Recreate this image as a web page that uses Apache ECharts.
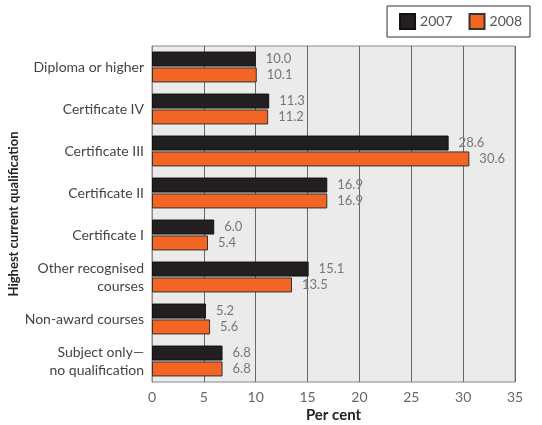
<!DOCTYPE html>
<html><head><meta charset="utf-8">
<script src="https://cdn.jsdelivr.net/npm/echarts@6/dist/echarts.min.js"></script>
<style>html,body{margin:0;padding:0;background:#fff}#c{width:542px;height:425px}</style>
</head><body><div id="c"></div>
<script>
const categories = ["Diploma or higher","Certificate IV","Certificate III","Certificate II","Certificate I","Other recognised\ncourses","Non-award courses","Subject only\u2014\nno qualification"];
const values2007 = [10.0, 11.3, 28.6, 16.9, 6.0, 15.1, 5.2, 6.8];
const values2008 = [10.1, 11.2, 30.6, 16.9, 5.4, 13.5, 5.6, 6.8];
const xTicks = [0,5,10,15,20,25,30,35];
const FONT = 'Lato';
const chart = echarts.init(document.getElementById('c'));
const lbl = {show:true, position:'right', distance:10, color:'#777', fontFamily:FONT, fontSize:13,
  formatter: p => p.value.toFixed(1)};
chart.setOption({
  animation:false,
  textStyle:{fontFamily:FONT},
  legend:{right:12, top:6, itemWidth:15, itemHeight:15, itemGap:16, icon:'rect',
    borderColor:'#333', borderWidth:1, padding:[7,8,7,12],
    textStyle:{color:'#555', fontSize:14, fontFamily:FONT},
    data:['2007','2008']},
  grid:{left:152, right:27, top:46, bottom:43, containLabel:false, outerBoundsMode:'none',
    show:true, backgroundColor:'#ebebeb', borderColor:'#888', borderWidth:1},
  xAxis:{type:'value', min:0, max:35, interval:5,
    name:'Per cent', nameLocation:'middle', nameGap:26, nameMoveOverlap:false,
    nameTextStyle:{fontWeight:'bold', fontSize:15, color:'#222', fontFamily:FONT},
    axisLine:{show:false}, axisTick:{show:false},
    axisLabel:{color:'#666', fontSize:14, margin:8, fontFamily:FONT,
      formatter: v => xTicks.includes(v) ? String(v) : ''},
    splitLine:{lineStyle:{color:'#666', width:1}}},
  yAxis:{type:'category', data:categories, inverse:true,
    name:'Highest current qualification', nameLocation:'middle', nameGap:132, nameRotate:90,
    nameMoveOverlap:false,
    nameTextStyle:{fontWeight:'bold', fontSize:13, color:'#222', fontFamily:FONT},
    axisLine:{lineStyle:{color:'#888'}}, axisTick:{show:false},
    axisLabel:{color:'#444', fontSize:14, margin:8, lineHeight:18, fontFamily:FONT}},
  series:[
    {name:'2007', type:'bar', data:values2007, barWidth:15, barGap:'6%',
      itemStyle:{color:'#231f20', borderColor:'#111', borderWidth:1}, label:lbl},
    {name:'2008', type:'bar', data:values2008, barWidth:15,
      itemStyle:{color:'#f26522', borderColor:'#333', borderWidth:1}, label:lbl}
  ]
});
</script></body></html>
